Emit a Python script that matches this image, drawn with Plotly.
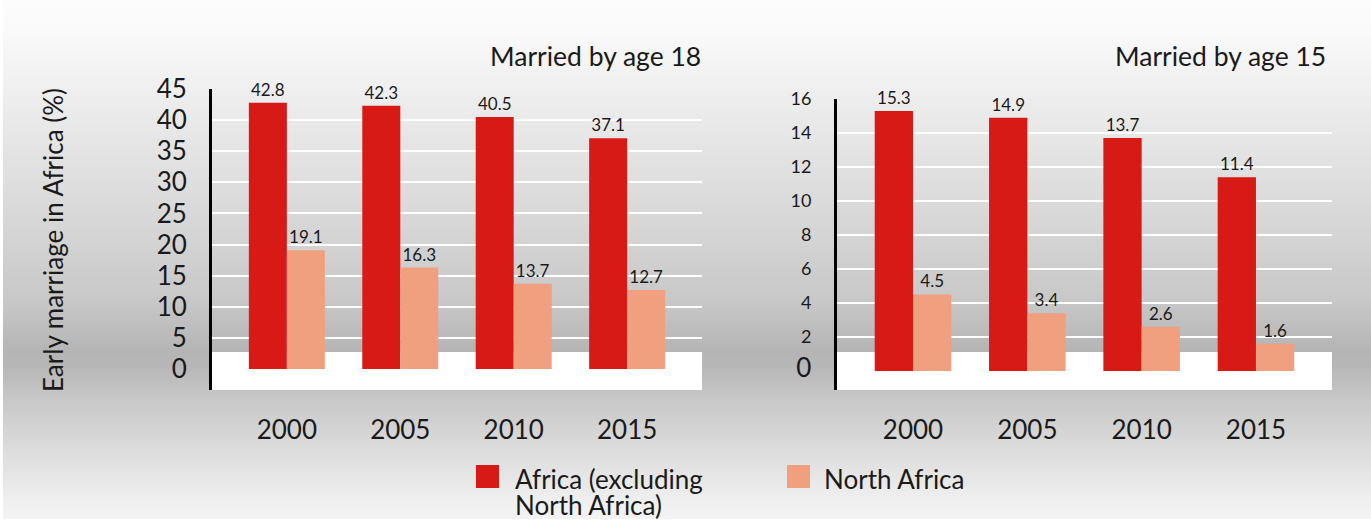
import base64
import struct
import zlib

import plotly.graph_objects as go

# ---- data ----
years = ["2000", "2005", "2010", "2015"]
africa_excl_na_18 = [42.8, 42.3, 40.5, 37.1]
north_africa_18 = [19.1, 16.3, 13.7, 12.7]
africa_excl_na_15 = [15.3, 14.9, 13.7, 11.4]
north_africa_15 = [4.5, 3.4, 2.6, 1.6]
series_names = ["Africa (excluding North Africa)", "North Africa"]
panel_titles = ["Married by age 18", "Married by age 15"]
y_title = "Early marriage in Africa (%)"
ticks_18 = [0, 5, 10, 15, 20, 25, 30, 35, 40, 45]
ticks_15 = [0, 2, 4, 6, 8, 10, 12, 14, 16]

# ---- style ----
W, H = 1371, 522
RED = "#d71a16"
SALMON = "#f09f7f"
INK = "#1a1a1a"
FONT = "Lato"


def px_x(x):
    return x / W


def px_y(y):
    return 1 - y / H


# ---- background: vertical grey gradient rendered as a tiny PNG ----
stops = [(0, 252), (30, 250), (100, 237), (200, 219), (300, 200),
         (350, 181), (365, 182), (400, 200), (450, 220), (500, 239),
         (522, 244)]


def grey_at(y):
    for (y0, g0), (y1, g1) in zip(stops[:-1], stops[1:]):
        if y0 <= y <= y1:
            t = (y - y0) / (y1 - y0)
            return g0 + t * (g1 - g0)
    return stops[-1][1]


def gradient_png(height, width=4):
    rows = b""
    for y in range(height):
        g = int(round(grey_at(y + 0.5)))
        rows += b"\x00" + bytes([g]) * width

    def chunk(tag, data):
        body = tag + data
        return (struct.pack(">I", len(data)) + body
                + struct.pack(">I", zlib.crc32(body) & 0xFFFFFFFF))

    png = b"\x89PNG\r\n\x1a\n"
    png += chunk(b"IHDR", struct.pack(">IIBBBBB", width, height, 8, 0, 0, 0, 0))
    png += chunk(b"IDAT", zlib.compress(rows, 9))
    png += chunk(b"IEND", b"")
    return "data:image/png;base64," + base64.b64encode(png).decode()


fig = go.Figure()

panels = [
    (africa_excl_na_18, north_africa_18, "x", "y"),
    (africa_excl_na_15, north_africa_15, "x2", "y2"),
]
for red_vals, salmon_vals, xa, ya in panels:
    for vals, color, name in ((red_vals, RED, series_names[0]),
                              (salmon_vals, SALMON, series_names[1])):
        fig.add_trace(go.Bar(
            x=years, y=vals, name=name, marker_color=color,
            marker_line_width=0, xaxis=xa, yaxis=ya,
            text=[f"{v}" for v in vals], textposition="outside",
            textfont=dict(family=FONT, size=17, color=INK),
            cliponaxis=False, showlegend=False,
        ))

shapes = []
# thin white border on left and bottom
shapes.append(dict(type="rect", xref="paper", yref="paper", x0=0, x1=px_x(3),
                   y0=0, y1=1, fillcolor="white", line_width=0, layer="below"))
shapes.append(dict(type="rect", xref="paper", yref="paper", x0=0, x1=1,
                   y0=0, y1=px_y(519), fillcolor="white", line_width=0,
                   layer="below"))

# white floor band at the bottom of each plot area
for xr, yr, top in (("x domain", "y", 2.73), ("x2 domain", "y2", 1.12)):
    shapes.append(dict(type="rect", xref=xr, yref=yr, x0=0, x1=1,
                       y0=-5, y1=top, fillcolor="white", line_width=0,
                       layer="below"))

# legend swatches
shapes.append(dict(type="rect", xref="paper", yref="paper",
                   x0=px_x(476), x1=px_x(499), y0=px_y(488), y1=px_y(465),
                   fillcolor=RED, line_width=0))
shapes.append(dict(type="rect", xref="paper", yref="paper",
                   x0=px_x(787), x1=px_x(810), y0=px_y(488), y1=px_y(465),
                   fillcolor=SALMON, line_width=0))

annotations = [
    dict(text=panel_titles[0], xref="paper", yref="paper",
         x=px_x(703), y=px_y(56), xanchor="right", yanchor="middle",
         showarrow=False, font=dict(family=FONT, size=26.5, color=INK)),
    dict(text=panel_titles[1], xref="paper", yref="paper",
         x=px_x(1328), y=px_y(56), xanchor="right", yanchor="middle",
         showarrow=False, font=dict(family=FONT, size=26.5, color=INK)),
    dict(text=y_title, xref="paper", yref="paper",
         x=px_x(53), y=px_y(240), xanchor="center", yanchor="middle",
         textangle=-90, showarrow=False,
         font=dict(family=FONT, size=26, color=INK)),
    dict(text="Africa (excluding", xref="paper", yref="paper",
         x=px_x(513), y=px_y(479), xanchor="left", yanchor="middle",
         showarrow=False, font=dict(family=FONT, size=26, color=INK)),
    dict(text="North Africa)", xref="paper", yref="paper",
         x=px_x(513), y=px_y(505), xanchor="left", yanchor="middle",
         showarrow=False, font=dict(family=FONT, size=26, color=INK)),
    dict(text=series_names[1], xref="paper", yref="paper",
         x=px_x(822), y=px_y(479), xanchor="left", yanchor="middle",
         showarrow=False, font=dict(family=FONT, size=26, color=INK)),
]

common_x = dict(type="category", showgrid=False, zeroline=False,
                showline=False, ticks="", ticklabelstandoff=22,
                tickfont=dict(family=FONT, size=26, color=INK),
                automargin=False, fixedrange=True)
common_y = dict(showgrid=True, gridcolor="white", gridwidth=2,
                zeroline=False, showline=True, linecolor="black",
                linewidth=3, ticks="", automargin=False, fixedrange=True)

fig.update_layout(
    width=W, height=H, autosize=False,
    margin=dict(l=0, r=0, t=0, b=0, pad=0, autoexpand=False),
    paper_bgcolor="rgba(0,0,0,0)", plot_bgcolor="rgba(0,0,0,0)",
    barmode="group", bargap=0.33, bargroupgap=0,
    showlegend=False,
    font=dict(family=FONT, color=INK),
    xaxis=dict(common_x, domain=[px_x(212), px_x(702)], range=[-0.66, 3.66],
               anchor="y"),
    yaxis=dict(common_y, domain=[px_y(390), px_y(89)], range=[-3.375, 45],
               tickvals=ticks_18, ticktext=[str(t) for t in ticks_18],
               ticklabelstandoff=17,
               tickfont=dict(family=FONT, size=26, color=INK), anchor="x"),
    xaxis2=dict(common_x, domain=[px_x(837), px_x(1332)],
                range=[-0.665, 3.665], anchor="y2"),
    yaxis2=dict(common_y, domain=[px_y(390), px_y(99)], range=[-1.12, 16],
                tickvals=ticks_15,
                ticktext=['<span style="font-size:26px">0</span>']
                + [str(t) for t in ticks_15[1:]],
                ticklabelstandoff=19,
                tickfont=dict(family=FONT, size=18, color=INK), anchor="x2"),
    images=[dict(source=gradient_png(H), xref="paper", yref="paper",
                 x=0, y=1, sizex=1, sizey=1, sizing="stretch",
                 xanchor="left", yanchor="top", layer="below")],
    shapes=shapes,
    annotations=annotations,
)

fig.write_html("out.html")
